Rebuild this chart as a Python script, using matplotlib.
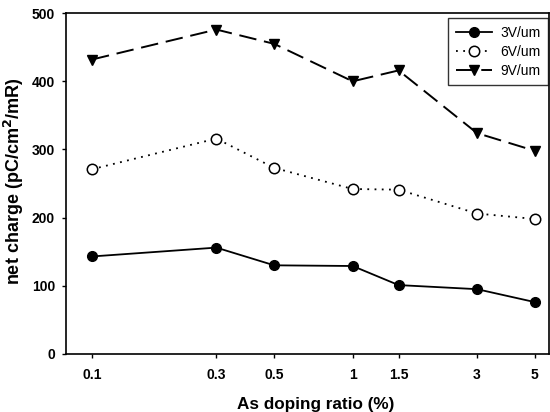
import matplotlib
matplotlib.use("Agg")
import matplotlib.pyplot as plt
from matplotlib.ticker import FixedLocator, FixedFormatter, NullLocator

plt.rcParams['font.family'] = ['Liberation Sans', 'DejaVu Sans']

# --- data ---
doping = [0.1, 0.3, 0.5, 1, 1.5, 3, 5]
tick_labels = ['0.1', '0.3', '0.5', '1', '1.5', '3', '5']
v3 = [143, 156, 130, 129, 101, 95, 76]
v6 = [271, 316, 273, 242, 241, 206, 198]
v9 = [432, 476, 455, 400, 416, 324, 298]

fig = plt.figure(figsize=(5.5, 4.12), dpi=100)
ax = fig.add_axes([0.12, 0.141, 0.878, 0.827])

ax.plot(doping, v3, color='black', lw=1.3, ls='-', marker='o', ms=7,
        mfc='black', mec='black', label='3V/um')
ax.plot(doping, v6, color='black', lw=1.3, ls=(0, (1, 3)), marker='o', ms=7.5,
        mfc='white', mec='black', mew=1.1, label='6V/um')
ax.plot(doping, v9, color='black', lw=1.4, ls=(0, (9, 4)), marker='v', ms=7,
        mfc='black', mec='black', label='9V/um')

ax.set_xscale('log')
ax.set_xlim(0.0795, 5.66)
ax.set_ylim(0, 500)
ax.xaxis.set_major_locator(FixedLocator(doping))
ax.xaxis.set_major_formatter(FixedFormatter(tick_labels))
ax.xaxis.set_minor_locator(NullLocator())
ax.set_yticks([0, 100, 200, 300, 400, 500])

for lab in ax.get_xticklabels() + ax.get_yticklabels():
    lab.set_fontweight('bold')
    lab.set_fontsize(10)
ax.tick_params(axis='both', direction='out', length=3, width=1, pad=5)
ax.tick_params(axis='x', pad=7)

for sp in ax.spines.values():
    sp.set_linewidth(1.2)

ax.set_xlabel('As doping ratio (%)', fontsize=12.3, fontweight='bold')
ax.xaxis.set_label_coords(0.518, -0.126)
ax.set_ylabel('net charge (pC/cm$^\\mathbf{2}$/mR)', fontsize=13,
              fontweight='bold')
ax.yaxis.set_label_coords(-0.083, 0.507)

leg = ax.legend(loc='upper right', fontsize=10, frameon=True, fancybox=False,
                edgecolor='black', handlelength=2.6, borderpad=0.55,
                labelspacing=0.35, handletextpad=0.6, borderaxespad=0,
                bbox_to_anchor=(0.998, 0.985))
leg.get_frame().set_linewidth(1.0)

fig.savefig('out.png', dpi=100)
